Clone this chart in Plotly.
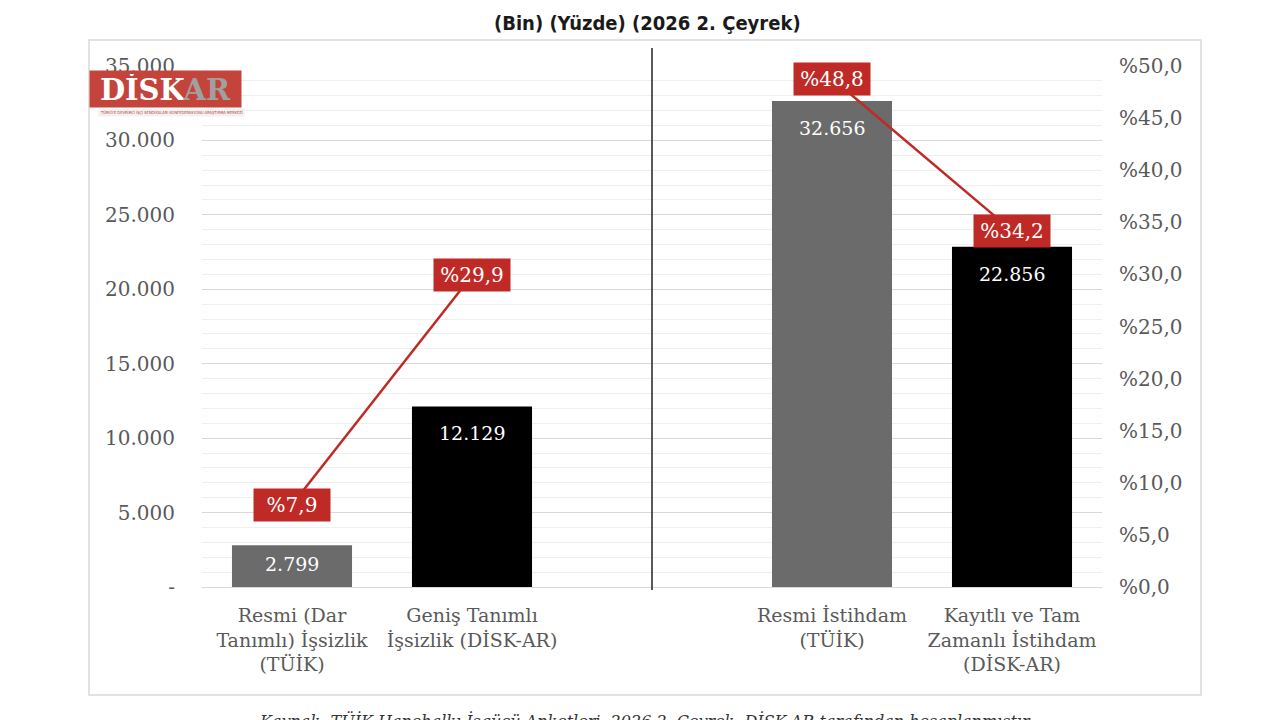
import plotly.graph_objects as go

# ---- data ----
categories = ["Resmi (Dar<br>Tanımlı) İşsizlik<br>(TÜİK)",
              "Geniş Tanımlı<br>İşsizlik (DİSK-AR)",
              "",
              "Resmi İstihdam<br>(TÜİK)",
              "Kayıtlı ve Tam<br>Zamanlı İstihdam<br>(DİSK-AR)"]
values_bin = [2799, 12129, None, 32656, 22856]
value_labels = ["2.799", "12.129", "", "32.656", "22.856"]
rates_pct = [7.9, 29.9, None, 48.8, 34.2]
rate_labels = ["%7,9", "%29,9", "", "%48,8", "%34,2"]
bar_colors = ["#6b6b6b", "#000000", "#ffffff", "#6b6b6b", "#000000"]

left_tickvals = [0, 5000, 10000, 15000, 20000, 25000, 30000, 35000]
left_ticktext = ["-", "5.000", "10.000", "15.000", "20.000", "25.000", "30.000", "35.000"]
right_tickvals = [0, 5, 10, 15, 20, 25, 30, 35, 40, 45, 50]
right_ticktext = ["%0,0", "%5,0", "%10,0", "%15,0", "%20,0", "%25,0", "%30,0",
                  "%35,0", "%40,0", "%45,0", "%50,0"]

title_text = "<b>(Bin) (Yüzde) (2026 2. Çeyrek)</b>"
source_text = ("<i>Kaynak: TÜİK Hanehalkı İşgücü Anketleri, 2026 2. Çeyrek, "
               "DİSK-AR tarafından hesaplanmıştır</i>")

# ---- layout geometry (page pixels; page body has an 8px margin) ----
OFF = 8
W, H = 1280 - OFF, 720 - OFF
L, R, T, B = 202 - OFF, 1102 - OFF, 66 - OFF, 587 - OFF
def px(xp):
    return (xp - OFF - L) / (R - L)
def py(yp):
    return (B - (yp - OFF)) / (B - T)

SERIF = "DejaVu Serif"
GRAY = "#595959"
RED = "#bf2a26"

xs = list(range(len(categories)))

fig = go.Figure()
fig.add_trace(go.Bar(
    x=xs, y=values_bin, marker=dict(color=bar_colors, line=dict(width=0)),
    hoverinfo="skip", showlegend=False,
))
fig.add_trace(go.Scatter(
    x=xs, y=rates_pct, yaxis="y2", mode="lines",
    line=dict(color=RED, width=2.5), connectgaps=False,
    hoverinfo="skip", showlegend=False,
))

annotations = []
for xi, v, lab in zip(xs, values_bin, value_labels):
    if v is None:
        continue
    annotations.append(dict(
        x=xi, y=v, xref="x", yref="y", text=lab, showarrow=False,
        yanchor="top", yshift=-14 if v > 5000 else -6,
        font=dict(family=SERIF, size=19, color="white"),
    ))
for xi, r, lab in zip(xs, rates_pct, rate_labels):
    if r is None:
        continue
    annotations.append(dict(
        x=xi, y=r, xref="x", yref="y2", text=lab, showarrow=False,
        bgcolor=RED, width=70, height=26, borderpad=3,
        font=dict(family=SERIF, size=20, color="white"),
    ))

# title
annotations.append(dict(
    x=px(647), y=py(9), xref="paper", yref="paper", text=title_text,
    xanchor="center", yanchor="top",
    showarrow=False, font=dict(family="DejaVu Sans Condensed", size=20, color="#1a1a1a"),
))
# source (cut at bottom)
annotations.append(dict(
    x=px(645), y=py(709), xref="paper", yref="paper", text=source_text,
    showarrow=False, xanchor="center", yanchor="top",
    font=dict(family=SERIF, size=16, color="#333333"),
))
# logo
annotations.append(dict(
    x=px(89), y=py(70), xref="paper", yref="paper",
    xanchor="left", yanchor="top",
    text="<b>DİSK<span style='color:#a0a0a0'>AR</span></b>",
    showarrow=False, bgcolor="#c4443b", width=145, height=30, borderpad=3,
    font=dict(family=SERIF, size=29, color="white"),
))
annotations.append(dict(
    x=px(98), y=py(108), xref="paper", yref="paper",
    xanchor="left", yanchor="top",
    text="TÜRKİYE DEVRİMCİ İŞÇİ SENDİKALARI KONFEDERASYONU ARAŞTIRMA MERKEZİ",
    showarrow=False, bgcolor="#f2f2f2",
    font=dict(family="DejaVu Sans Condensed", size=4, color="#c4443b"),
))

shapes = [
    # outer frame
    dict(type="rect", xref="paper", yref="paper",
         x0=px(89), x1=px(1201), y0=py(695), y1=py(40),
         line=dict(color="#d9d9d9", width=1.5), layer="below"),
    # separator
    dict(type="line", xref="x", yref="paper", x0=2, x1=2,
         y0=py(590), y1=py(48), line=dict(color="#222222", width=1.5)),
]

fig.update_layout(
    width=W, height=H,
    margin=dict(l=L, r=W - R, t=T, b=H - B, pad=0),
    paper_bgcolor="white", plot_bgcolor="white",
    bargap=0.333,
    xaxis=dict(
        range=[-0.5, 4.5], tickmode="array", tickvals=[0, 1, 3, 4],
        ticktext=[categories[i] for i in [0, 1, 3, 4]],
        showgrid=False, zeroline=False, showline=True,
        linecolor="#d9d9d9", linewidth=1, ticks="",
        tickfont=dict(family=SERIF, size=19, color=GRAY),
        ticklabelstandoff=11,
    ),
    yaxis=dict(
        range=[0, 35000], tickmode="array", tickvals=left_tickvals,
        ticktext=left_ticktext, showgrid=True, gridcolor="#d9d9d9", gridwidth=1,
        zeroline=False, showline=False, ticks="",
        minor=dict(tickmode="linear", tick0=0, dtick=1000, showgrid=True,
                   gridcolor="#efefef", gridwidth=1),
        tickfont=dict(family=SERIF, size=20, color=GRAY),
        ticklabelstandoff=26,
    ),
    yaxis2=dict(
        range=[0, 50], overlaying="y", side="right", tickmode="array",
        tickvals=right_tickvals, ticktext=right_ticktext, showgrid=False,
        zeroline=False, showline=False, ticks="",
        tickfont=dict(family=SERIF, size=20, color=GRAY),
        ticklabelstandoff=16,
    ),
    annotations=annotations,
    shapes=shapes,
)

fig.write_html("out.html")
